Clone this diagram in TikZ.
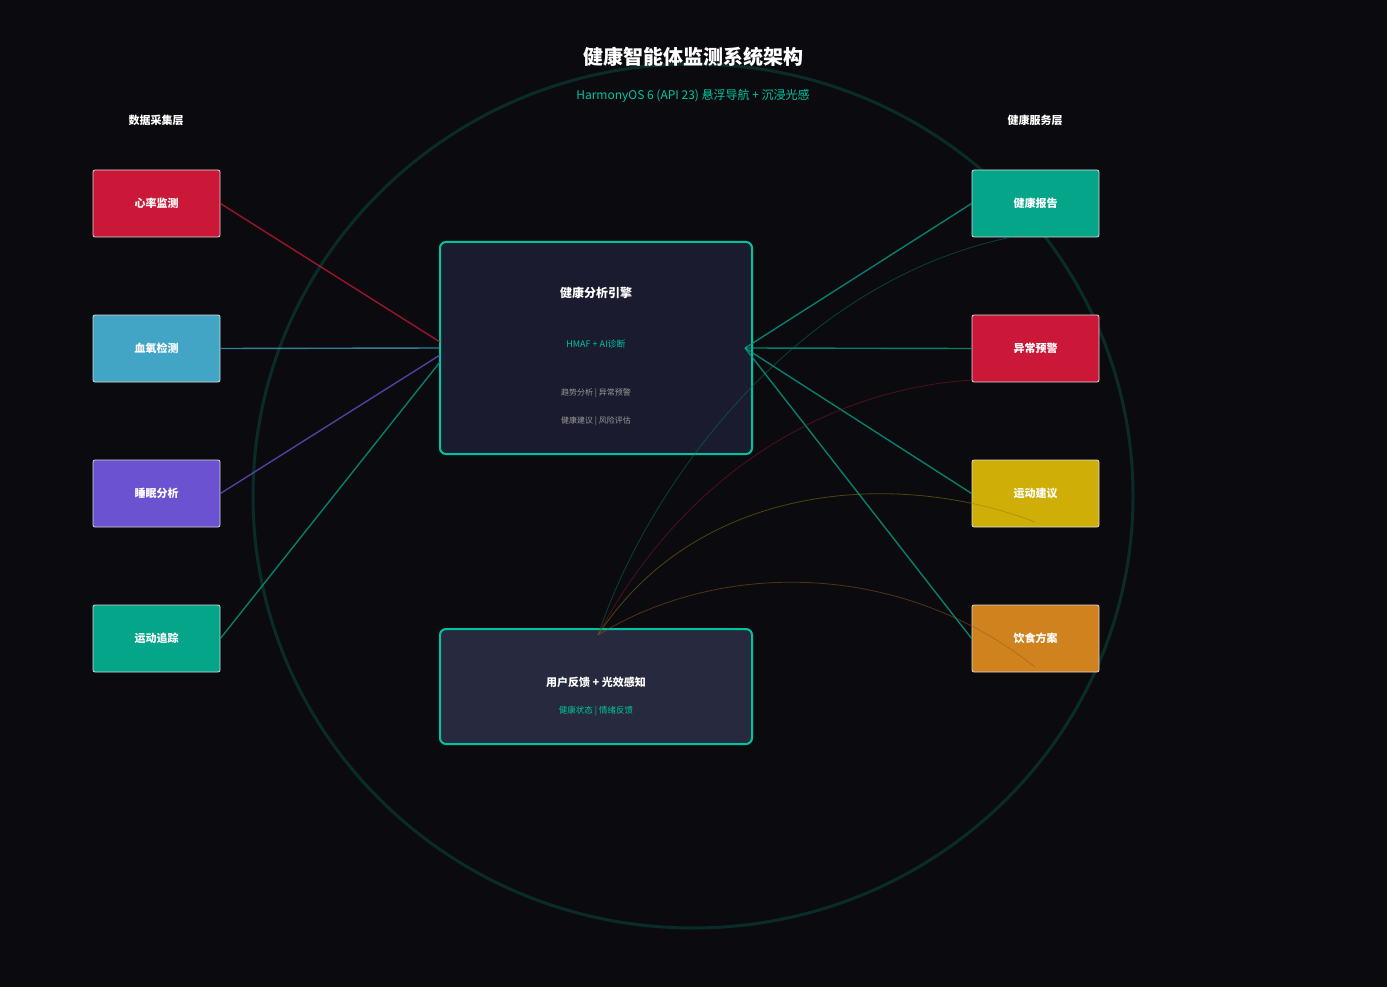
\documentclass[tikz,border=0pt]{standalone}
\usepackage{fontspec}
\setmainfont{Noto Sans CJK SC}
\begin{document}
\begin{tikzpicture}[x=1pt,y=-1pt,
  src/.style={draw=white!85!black,line width=0.8pt,rounded corners=2pt,minimum width=127pt,minimum height=67pt,text=white,font=\bfseries\fontsize{11}{13}\selectfont},
  hub/.style={draw=accent,line width=2pt,rounded corners=6pt},
  link/.style={line width=1.4pt,opacity=0.75},
  arc/.style={line width=0.8pt,opacity=0.5}]
\definecolor{bg}{HTML}{0B0B0F}
\definecolor{accent}{HTML}{00C4A0}
\definecolor{cHeart}{HTML}{CC1838}
\definecolor{cBlood}{HTML}{42A5C5}
\definecolor{cSleep}{HTML}{6A52D0}
\definecolor{cSport}{HTML}{05A58A}
\definecolor{cYel}{HTML}{CFAE08}
\definecolor{cOra}{HTML}{CF821E}
\definecolor{hubA}{HTML}{1A1B2E}
\definecolor{hubB}{HTML}{272A3E}
\fill[bg] (0,0) rectangle (1387,987);
\useasboundingbox (0,0) rectangle (1387,987);
\draw[accent!18!bg,line width=3pt] (693,496) ellipse [x radius=440,y radius=432];
\node[text=white,font=\bfseries\fontsize{20}{24}\selectfont] (title) at (693,57) {健康智能体监测系统架构};
\node[text=accent,font=\fontsize{12}{14}\selectfont] (sub) at (693,96) {HarmonyOS 6 (API 23) 悬浮导航 + 沉浸光感};
\node[text=white,font=\bfseries\fontsize{11}{13}\selectfont] (ll) at (156,120) {数据采集层};
\node[text=white,font=\bfseries\fontsize{11}{13}\selectfont] (rl) at (1035,120) {健康服务层};
\node[src,fill=cHeart] (h) at (156.5,203.5) {心率监测};
\node[src,fill=cBlood] (b) at (156.5,348.5) {血氧检测};
\node[src,fill=cSleep] (s) at (156.5,493.5) {睡眠分析};
\node[src,fill=cSport] (m) at (156.5,638.5) {运动追踪};
\node[src,fill=cSport] (r1) at (1035.5,203.5) {健康报告};
\node[src,fill=cHeart] (r2) at (1035.5,348.5) {异常预警};
\node[src,fill=cYel] (r3) at (1035.5,493.5) {运动建议};
\node[src,fill=cOra] (r4) at (1035.5,638.5) {饮食方案};
\draw[hub,fill=hubA] (440,242) rectangle (752,454);
\node[text=white,font=\bfseries\fontsize{12}{14}\selectfont] (ct) at (596,293) {健康分析引擎};
\node[text=accent,font=\fontsize{9}{11}\selectfont] (c2) at (596,344) {HMAF + AI诊断};
\node[text=white!60!black,font=\fontsize{8}{10}\selectfont] (c3) at (596,393) {趋势分析 | 异常预警};
\node[text=white!60!black,font=\fontsize{8}{10}\selectfont] (c4) at (596,421) {健康建议 | 风险评估};
\draw[hub,fill=hubB] (440,629) rectangle (752,744);
\node[text=white,font=\bfseries\fontsize{11}{13}\selectfont] (ft) at (596,682) {用户反馈 + 光效感知};
\node[text=accent,font=\fontsize{8.5}{10}\selectfont] (f2) at (596,711) {健康状态 | 情绪反馈};
\coordinate (cl1) at (440,342); \coordinate (cl2) at (440,348);
\coordinate (cl3) at (440,355); \coordinate (cl4) at (440,362);
\coordinate (cr) at (745,348);
\coordinate (fb) at (598,635);
\draw[link,cHeart] (h.east) -- (cl1);
\draw[link,cBlood] (b.east) -- (cl2);
\draw[link,cSleep] (s.east) -- (cl3);
\draw[link,cSport] (m.east) -- (cl4);
\foreach \n in {r1,r2,r3,r4} \draw[link,cSport] (cr) -- (\n.west);
\draw[arc,cSport!70!bg] (fb) .. controls (650,480) and (800,280) .. (1012,237);
\draw[arc,cHeart!70!bg] (fb) .. controls (680,480) and (820,390) .. (972,380);
\draw[arc,cYel!70!bg] (fb) .. controls (700,480) and (900,470) .. (1035,522);
\draw[arc,cOra!70!bg] (fb) .. controls (720,560) and (900,560) .. (1035,667);
\end{tikzpicture}
\end{document}
